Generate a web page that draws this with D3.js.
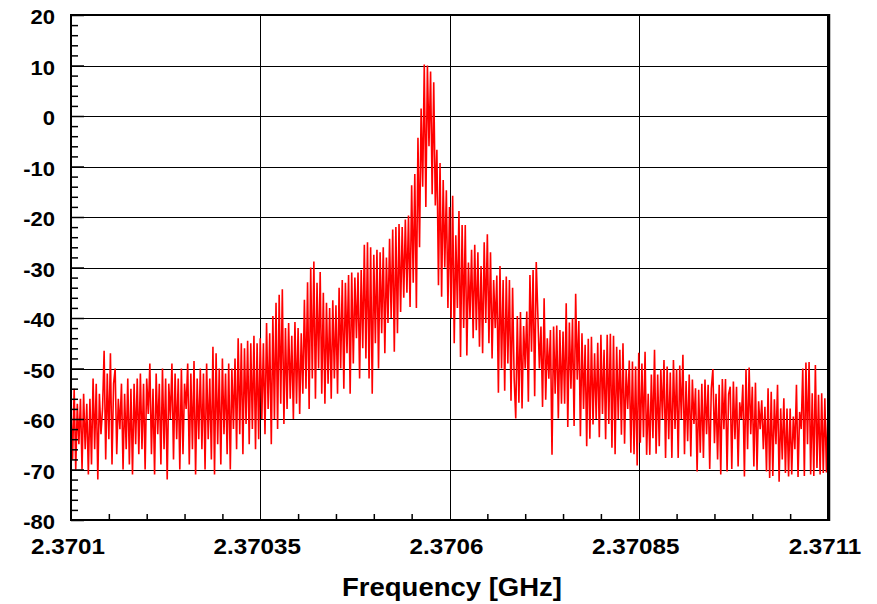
<!DOCTYPE html>
<html>
<head>
<meta charset="utf-8">
<script src="https://cdn.jsdelivr.net/npm/d3@7"></script>
<style>
  html, body { margin: 0; padding: 0; background: #fff; }
  #chart { width: 877px; height: 604px; }
</style>
</head>
<body>
<div id="chart"></div>
<script>
// ── Data ───────────────────────────────────────────────────
var freqStart = 2.3701;
var freqStop = 2.3711;
var xTicks = [2.3701, 2.37035, 2.3706, 2.37085, 2.3711];
var xTickLabels = ["2.3701", "2.37035", "2.3706", "2.37085", "2.3711"];
var yTicks = [-80, -70, -60, -50, -40, -30, -20, -10, 0, 10, 20];
var xTitle = "Frequency [GHz]";

// spectrum trace (dB), equally spaced from freqStart to freqStop
var powerDb = [
  -58, -68, -54, -70, -57, -65, -56, -70, -55, -66, -57, -71, -56, -69, -52, -66, -53, -72,
  -55, -63, -58, -46.5, -68, -51, -64, -47, -69, -53, -50, -67, -56, -62, -53, -70, -55, -66, -52, -69, -54, -71, -53, -65,
  -52, -67, -51, -66, -53, -70, -52, -59, -49, -67, -54, -71, -51, -63, -53, -69, -50, -66, -52, -72,
  -53, -60, -49, -68, -51, -64, -52, -70, -50, -67, -53, -58, -49, -69, -51, -66, -48.5, -71, -52, -64,
  -50, -66, -51, -70, -49, -64, -52, -68, -45.7, -71, -47, -65, -50, -69, -48, -63, -51, -67, -49, -70, -50, -62, -48, -66,
  -44, -63, -45, -67, -46, -61, -44.5, -65, -45, -62, -43.5, -66, -45, -64, -44,
  -60, -45, -63, -41, -58, -43, -65, -39.6, -60, -37, -62, -35.4, -57, -34.3, -61,
  -42, -58, -41, -56, -43.5, -60, -40.8, -57, -42, -59, -43, -55,
  -36.4, -54, -32.9, -58, -30, -52, -28.8, -56, -33, -50, -30.9, -55, -35,
  -57, -37, -53, -38, -56, -36.5, -52, -37.5, -55, -34,
  -50, -32.5, -54, -33, -47, -31.5, -55, -31, -49, -32, -44, -31, -52, -30.5, -46,
  -25.5, -48, -25, -52, -26, -55, -27.5, -45, -26.5, -50, -27, -43, -26, -47, -28, -41,
  -24.3, -40, -22.5, -46.7, -22, -43, -21.4, -38.8, -22, -36, -20.5, -35, -19.7,
  -37.8, -13.7, -33, -11.5, -38, -4.3,
  -26, 1.5, -14, 10.2, -18, 10, -6,
  8.8, -15.5, 6.7, -17.7, -6.7, -33.5,
  -9.3, -35.8, -12.7, -30, -14.7, -38,
  -18, -40, -15.8, -45, -23.6, -38, -18.8, -47.7, -21.6, -42,
  -21.6, -47.4, -29, -40, -26.5, -44, -25.5, -42.4, -27, -45.7, -29.7, -47, -25, -41, -23.4, -45,
  -27, -48, -32.5, -42, -31.6, -54.8, -29.7, -50, -32.5, -54.4, -31.8, -49, -32.5, -56.4, -34, -52,
  -59.9, -39.6, -56.8, -38.8, -57.9, -41.6, -50, -38.7, -56.6, -31.5, -46.7, -30.5, -55.5, -28.9,
  -39.1, -50, -41.7, -57.6, -36.1, -56.2, -44, -52, -42.4, -67.1, -41.7, -55, -41.5, -59.9, -42.4, -57, -42.7, -57, -37.1, -61.6, -40.9, -54, -40.1, -61.4,
  -35.2, -52.2, -40.6, -63.4, -43, -58, -45.3, -65.4, -44.1, -63.9, -43.7, -61.1, -47, -60, -44.9, -63.6, -43.3, -59, -46.3, -64, -43.3, -61, -43.1, -65.7,
  -43.5, -67, -45.7, -60, -46.3, -63.1, -45, -64.9, -50.2, -58, -48.4, -66.7, -48.6, -67, -49.6, -69.2, -46.9,
  -64.7, -49, -63.6, -46.7, -67.1, -55, -67.1, -51.2, -63.8, -46.3, -66.9, -51.2, -65.4, -50.1, -60, -48.3, -67.7, -49.6, -64,
  -50.8, -67.7, -48.3, -62, -50.1, -67.7, -49.4, -60, -47.3, -67, -52.5, -64.4, -51.2, -67.4, -52.2, -61, -53.9, -70.4, -54.2,
  -66.7, -53, -67.7, -52.2, -63, -53.2, -69.9, -54, -50.1, -64.8, -55, -68,
  -53.2, -71, -52.1, -62, -52.1, -70.4, -55, -53.6, -69.9, -52.6, -64, -53.6, -69.4, -56.7, -60, -53.2, -71.4, -50.1, -66,
  -49.8, -63, -53.6, -69.4, -52.8, -70.1, -56.5, -62, -56.3, -66, -57.6, -70.4, -53.9, -71.7, -54.6, -71.3, -56.1, -65, -53.2, -72.4, -57.9, -68, -55.9, -70.7, -57.9,
  -71.4, -57.9, -71, -59.5, -66, -53.2, -71.5, -58.6, -62, -50, -71.3,
  -48.8, -65, -48.7, -71, -54.9, -71.3, -49.3, -69.7, -55.2, -71, -54.9, -70.7, -55.9, -70.6, -57.9
];

// ── Layout ─────────────────────────────────────────────────
var W = 877, H = 604;
var plot = { left: 71, right: 828, top: 15, bottom: 520 };
var FONT = "'Liberation Sans', Arial, Helvetica, sans-serif";
var STRETCH = 1.1; // labels in the reference are slightly wide

var svg = d3.select("#chart").append("svg")
  .attr("width", W)
  .attr("height", H)
  .attr("font-family", FONT)
  .attr("font-weight", "bold");

var x = d3.scaleLinear().domain([freqStart, freqStop]).range([plot.left, plot.right]);
var y = d3.scaleLinear().domain([-80, 20]).range([plot.bottom, plot.top]);
var innerW = plot.right - plot.left;
var innerH = plot.bottom - plot.top;

// ── Grid ───────────────────────────────────────────────────
svg.append("g")
  .attr("transform", "translate(" + plot.left + ",0)")
  .call(d3.axisLeft(y).tickValues(yTicks).tickSize(-innerW).tickFormat(""))
  .call(function (g) {
    g.select(".domain").remove();
    g.selectAll(".tick line").attr("stroke", "#000").attr("stroke-width", 1)
      .attr("shape-rendering", "crispEdges");
  });

svg.append("g")
  .attr("transform", "translate(0," + plot.bottom + ")")
  .call(d3.axisBottom(x).tickValues(xTicks).tickSize(-innerH).tickFormat(""))
  .call(function (g) {
    g.select(".domain").remove();
    g.selectAll(".tick line").attr("stroke", "#000").attr("stroke-width", 1)
      .attr("shape-rendering", "crispEdges");
  });

// ── Trace ──────────────────────────────────────────────────
svg.append("clipPath").attr("id", "clip")
  .append("rect")
  .attr("x", plot.left).attr("y", plot.top)
  .attr("width", innerW).attr("height", innerH);

var step = (freqStop - freqStart) / (powerDb.length - 1);
var line = d3.line()
  .x(function (d, i) { return x(freqStart + i * step); })
  .y(function (d) { return y(d); });

svg.append("path")
  .datum(powerDb)
  .attr("clip-path", "url(#clip)")
  .attr("fill", "none")
  .attr("stroke", "#ff0000")
  .attr("stroke-width", 1.6)
  .attr("stroke-linejoin", "miter")
  .attr("d", line);

// ── Ticks ──────────────────────────────────────────────────
var yMinor = d3.range(-80, 20.1, 2).filter(function (v) { return v % 10 !== 0; });
svg.append("g")
  .attr("transform", "translate(" + plot.left + ",0)")
  .call(d3.axisLeft(y).tickValues(yMinor).tickSize(-7).tickFormat(""))
  .call(function (g) {
    g.select(".domain").remove();
    g.selectAll(".tick line").attr("stroke", "#000").attr("stroke-width", 1.5);
  });
svg.append("g")
  .attr("transform", "translate(" + plot.left + ",0)")
  .call(d3.axisLeft(y).tickValues(yTicks).tickSize(-13).tickFormat(""))
  .call(function (g) {
    g.select(".domain").remove();
    g.selectAll(".tick line").attr("stroke", "#000").attr("stroke-width", 1.5);
  });

var xMinor = d3.range(0, 21).map(function (k) { return freqStart + k * 0.00005; })
  .filter(function (v, k) { return k % 5 !== 0; });
svg.append("g")
  .attr("transform", "translate(0," + plot.bottom + ")")
  .call(d3.axisBottom(x).tickValues(xMinor).tickSize(-6).tickFormat(""))
  .call(function (g) {
    g.select(".domain").remove();
    g.selectAll(".tick line").attr("stroke", "#000").attr("stroke-width", 1.5);
  });

// ── Frame ──────────────────────────────────────────────────
svg.append("rect")
  .attr("x", plot.left).attr("y", plot.top)
  .attr("width", innerW).attr("height", innerH)
  .attr("fill", "none")
  .attr("stroke", "#000")
  .attr("stroke-width", 2);
svg.append("line")
  .attr("x1", plot.right + 1.5).attr("x2", plot.right + 1.5)
  .attr("y1", plot.top - 1).attr("y2", plot.bottom + 1)
  .attr("stroke", "#000").attr("stroke-width", 1.5);

// ── Labels ─────────────────────────────────────────────────
function stretchedText(px, py, anchor, size, str) {
  svg.append("text")
    .attr("transform", "translate(" + px + "," + py + ") scale(" + STRETCH + ",1)")
    .attr("text-anchor", anchor)
    .attr("font-size", size)
    .attr("fill", "#000")
    .text(str);
}

yTicks.forEach(function (v) {
  stretchedText(55, y(v) + 9, "end", 20, v);
});

xTicks.forEach(function (v, i) {
  stretchedText(x(v) - 3, plot.bottom + 34, "middle", 22, xTickLabels[i]);
});

stretchedText(452, 596, "middle", 25, xTitle);
</script>
</body>
</html>
